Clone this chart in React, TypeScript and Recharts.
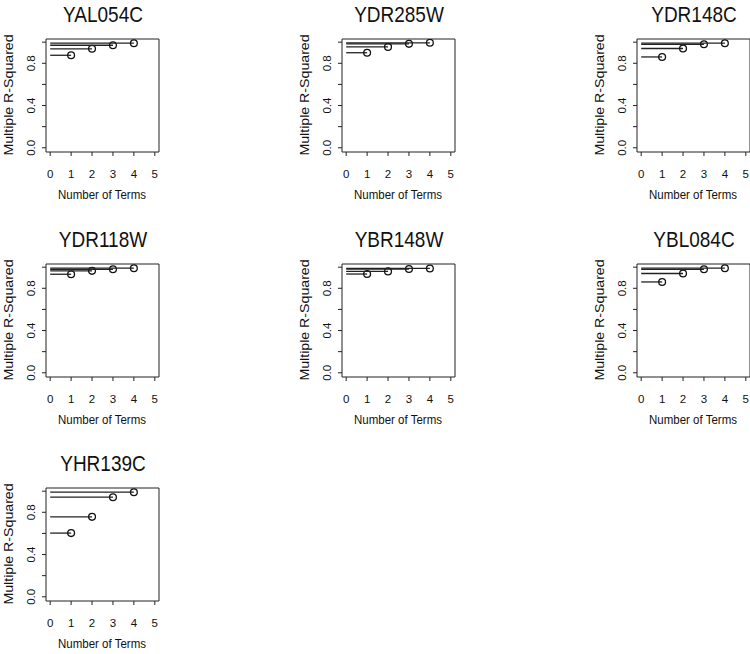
import React from 'react';
import { ScatterChart, Scatter, XAxis, YAxis, ReferenceArea } from 'recharts';

const genes = ['YAL054C', 'YDR285W', 'YDR148C', 'YDR118W', 'YBR148W', 'YBL084C', 'YHR139C'];
const terms = [1, 2, 3, 4];
const xTicks = [0, 1, 2, 3, 4, 5];
const yTicks = [0, 0.2, 0.4, 0.6, 0.8, 1.0];
const yTickLabels = ['0.0', '', '0.4', '', '0.8', ''];

const rsqYAL054C = [0.876, 0.937, 0.971, 0.99];
const rsqYDR285W = [0.9, 0.955, 0.984, 0.994];
const rsqYDR148C = [0.86, 0.94, 0.98, 0.99];
const rsqYDR118W = [0.933, 0.965, 0.98, 0.99];
const rsqYBR148W = [0.935, 0.96, 0.982, 0.988];
const rsqYBL084C = [0.86, 0.94, 0.98, 0.99];
const rsqYHR139C = [0.603, 0.757, 0.943, 0.99];

const allRsq = [rsqYAL054C, rsqYDR285W, rsqYDR148C, rsqYDR118W, rsqYBR148W, rsqYBL084C, rsqYHR139C];

const W = 296;
const H = 225;
const colLeft = [0, 296, 591];
const rowTop = [0, 225, 449];
const FONT = '"Liberation Sans", Arial, Helvetica, sans-serif';

const XTick = (props: any) => {
  const { x, y, payload } = props;
  return (
    <text x={x} y={y + 20} textAnchor="middle" fontSize={11.5} fontFamily={FONT} fill="#111">
      {payload.value}
    </text>
  );
};

const YTick = (props: any) => {
  const { x, y, payload } = props;
  const idx = yTicks.indexOf(payload.value);
  const label = idx >= 0 ? yTickLabels[idx] : '';
  if (!label) return <g />;
  const tx = x - 5;
  return (
    <text
      x={tx}
      y={y}
      transform={`rotate(-90, ${tx}, ${y})`}
      textAnchor="middle"
      fontSize={11.5}
      fontFamily={FONT}
      fill="#111"
    >
      {label}
    </text>
  );
};

const EndPoint = (p: any) => {
  const px = p.payload?.x ?? p.node?.x;
  if (px === 0) return <g />;
  return <circle cx={p.cx} cy={p.cy} r={3.4} fill="none" stroke="#111" strokeWidth={1.3} />;
};

function Panel({ name, values, left, top }: { name: string; values: number[]; left: number; top: number }) {
  const segments = terms.map((t, i) => [
    { x: 0, y: values[i] },
    { x: t, y: values[i] },
  ]);
  return (
    <div style={{ position: 'absolute', left, top, width: W, height: H }}>
      <div
        style={{
          position: 'absolute',
          left: 3,
          width: 200,
          top: 4,
          textAlign: 'center',
          fontFamily: FONT,
          fontSize: 19,
          lineHeight: '22px',
          color: '#111',
          transform: 'scaleY(1.12)',
        }}
      >
        {name}
      </div>
      <div
        style={{
          position: 'absolute',
          left: 9 - 100,
          top: 95 - 8,
          width: 200,
          height: 16,
          lineHeight: '16px',
          textAlign: 'center',
          fontFamily: FONT,
          fontSize: 12,
          color: '#111',
          transform: 'rotate(-90deg) scaleX(1.18)',
        }}
      >
        Multiple R-Squared
      </div>
      <div
        style={{
          position: 'absolute',
          left: 2,
          width: 200,
          top: 195 - 8,
          height: 16,
          lineHeight: '16px',
          textAlign: 'center',
          fontFamily: FONT,
          fontSize: 11.5,
          color: '#111',
          transform: 'scaleY(1.1)',
        }}
      >
        Number of Terms
      </div>
      <div style={{ position: 'absolute', left: 0, top: 0 }}>
        <ScatterChart width={W} height={H} margin={{ top: 39, right: W - 159, bottom: 43, left: 0 }}>
          <XAxis
            type="number"
            dataKey="x"
            domain={[-0.2, 5.2]}
            ticks={xTicks}
            interval={0}
            allowDataOverflow
            axisLine={false}
            tickSize={4}
            tickLine={{ stroke: '#222', strokeWidth: 1 }}
            tick={<XTick />}
            height={30}
          />
          <YAxis
            type="number"
            dataKey="y"
            domain={[-0.04, 1.03]}
            ticks={yTicks}
            interval={0}
            allowDataOverflow
            axisLine={false}
            tickSize={4}
            tickLine={{ stroke: '#222', strokeWidth: 1 }}
            tick={<YTick />}
            width={46}
          />
          <ReferenceArea x1={-0.2} x2={5.2} y1={-0.04} y2={1.03} fill="none" stroke="#222" strokeWidth={1} />
          {segments.map((seg, i) => (
            <Scatter
              key={i}
              data={seg}
              line={{ stroke: '#222', strokeWidth: 1.3 }}
              shape={EndPoint}
              isAnimationActive={false}
            />
          ))}
        </ScatterChart>
      </div>
    </div>
  );
}

export default function App() {
  return (
    <div style={{ position: 'absolute', left: 0, top: 0, width: 750, height: 654, background: '#fff' }}>
      {genes.map((g, i) => (
        <Panel key={g} name={g} values={allRsq[i]} left={colLeft[i % 3]} top={rowTop[Math.floor(i / 3)]} />
      ))}
    </div>
  );
}
